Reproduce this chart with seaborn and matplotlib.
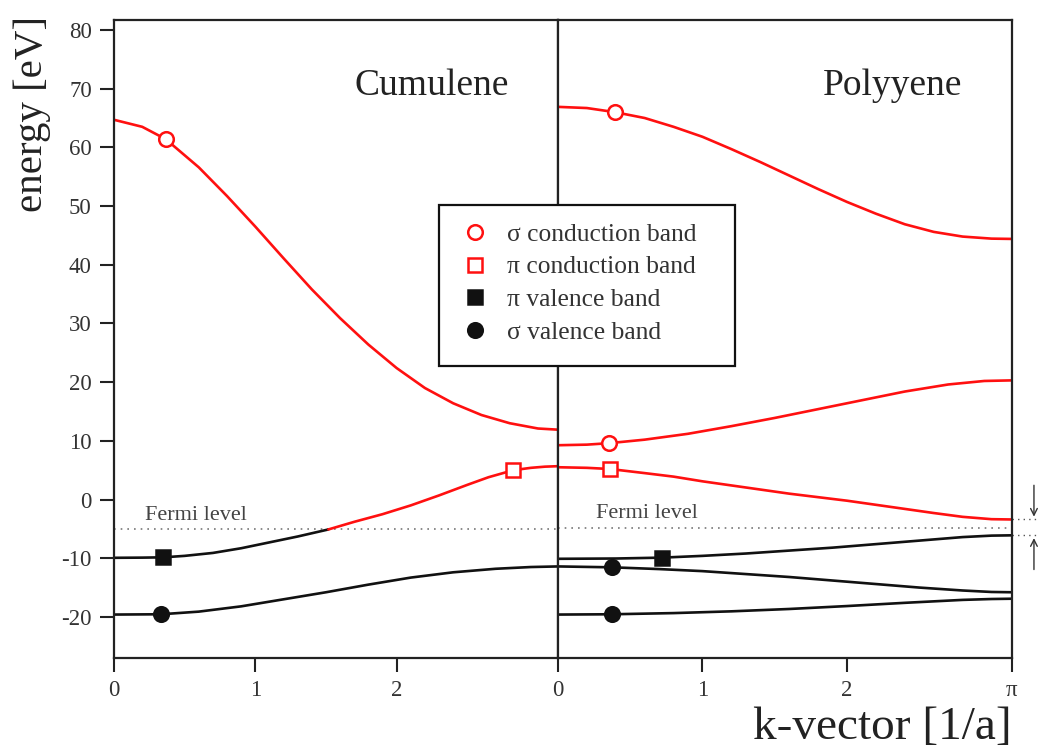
import numpy as np
import pandas as pd
import seaborn as sns
import matplotlib.pyplot as plt
from matplotlib.lines import Line2D
from matplotlib.patches import Rectangle

# ---- band data: k in units of 1/a, energy in eV ----
# Cumulene
cum_sig_c_k = [0.0, 0.2, 0.366, 0.6, 0.8, 1.0, 1.2, 1.4, 1.6, 1.8, 2.0, 2.2, 2.4, 2.6, 2.8, 3.0, np.pi]
cum_sig_c_E = [64.7, 63.5, 61.4, 56.6, 51.7, 46.5, 41.1, 35.8, 30.9, 26.4, 22.4, 19.0, 16.4, 14.4, 13.0, 12.1, 11.9]

# pi band below the Fermi level (valence part) and above it (conduction part)
cum_pi_v_k = [0.0, 0.2, 0.349, 0.5, 0.7, 0.9, 1.1, 1.3, 1.517]
cum_pi_v_E = [-9.93, -9.9, -9.85, -9.6, -9.1, -8.3, -7.3, -6.3, -5.1]
cum_pi_c_k = [1.517, 1.7, 1.9, 2.1, 2.3, 2.5, 2.65, 2.826, 2.95, 3.05, np.pi]
cum_pi_c_E = [-5.1, -3.8, -2.5, -1.0, 0.7, 2.5, 3.8, 5.0, 5.4, 5.6, 5.68]

cum_sig_v_k = [0.0, 0.333, 0.6, 0.9, 1.2, 1.5, 1.8, 2.1, 2.4, 2.7, 2.95, np.pi]
cum_sig_v_E = [-19.6, -19.55, -19.1, -18.2, -17.0, -15.8, -14.5, -13.3, -12.4, -11.8, -11.5, -11.4]

# Polyyene
pol_sig_c1_k = [0.0, 0.2, 0.394, 0.6, 0.8, 1.0, 1.2, 1.4, 1.6, 1.8, 2.0, 2.2, 2.4, 2.6, 2.8, 3.0, np.pi]
pol_sig_c1_E = [66.9, 66.7, 66.0, 65.0, 63.5, 61.8, 59.7, 57.5, 55.2, 52.9, 50.7, 48.7, 46.9, 45.6, 44.8, 44.45, 44.4]

pol_sig_c2_k = [0.0, 0.2, 0.353, 0.6, 0.9, 1.2, 1.5, 1.8, 2.1, 2.4, 2.7, 2.95, np.pi]
pol_sig_c2_E = [9.25, 9.35, 9.6, 10.2, 11.2, 12.5, 13.9, 15.4, 16.9, 18.4, 19.6, 20.2, 20.3]

pol_pi_c_k = [0.0, 0.2, 0.36, 0.6, 0.8, 1.0, 1.2, 1.4, 1.6, 1.8, 2.0, 2.2, 2.4, 2.6, 2.8, 3.0, np.pi]
pol_pi_c_E = [5.5, 5.4, 5.2, 4.5, 3.9, 3.1, 2.4, 1.7, 1.0, 0.4, -0.2, -0.9, -1.6, -2.3, -2.95, -3.35, -3.4]

pol_pi_v_k = [0.0, 0.4, 0.72, 1.0, 1.3, 1.6, 1.9, 2.2, 2.5, 2.8, 3.0, np.pi]
pol_pi_v_E = [-10.1, -10.05, -9.9, -9.6, -9.2, -8.7, -8.2, -7.6, -7.0, -6.4, -6.15, -6.1]

pol_sig_v1_k = [0.0, 0.374, 0.7, 1.0, 1.3, 1.6, 1.9, 2.2, 2.5, 2.8, 3.0, np.pi]
pol_sig_v1_E = [-11.4, -11.55, -11.85, -12.2, -12.7, -13.2, -13.8, -14.4, -15.0, -15.5, -15.75, -15.8]

pol_sig_v2_k = [0.0, 0.374, 0.8, 1.2, 1.6, 2.0, 2.4, 2.8, 3.0, np.pi]
pol_sig_v2_E = [-19.6, -19.55, -19.35, -19.05, -18.65, -18.15, -17.6, -17.1, -16.95, -16.9]

fermi_cum = -5.1
fermi_pol = -4.8
gap_top = -3.4
gap_bottom = -6.1

# marker positions (k, E)
cum_markers = {
    "sig_c": (0.366, 61.4),
    "pi_c": (2.826, 5.0),
    "pi_v": (0.349, -9.85),
    "sig_v": (0.333, -19.55),
}
pol_markers = {
    "sig_c1": (0.394, 66.0),
    "sig_c2": (0.353, 9.6),
    "pi_c": (0.36, 5.2),
    "pi_v": (0.72, -9.9),
    "sig_v1": (0.374, -11.55),
    "sig_v2": (0.374, -19.55),
}

legend_labels = ["\u03c3 conduction band", "\u03c0 conduction band",
                 "\u03c0 valence band", "\u03c3 valence band"]

sns.set_theme(style="ticks")
plt.rcParams["font.family"] = ["Liberation Serif", "DejaVu Serif"]
plt.rcParams["axes.unicode_minus"] = False
plt.rcParams["lines.solid_joinstyle"] = "round"

RED = "#ff1010"
BLK = "#111111"
TXT = "#333333"

W, H = 1039, 749
fig = plt.figure(figsize=(W / 100, H / 100), dpi=100)
gs = fig.add_gridspec(1, 2, width_ratios=[444, 454], wspace=0,
                      left=0.1097, right=0.974, top=0.9733, bottom=0.1215)
ax1 = fig.add_subplot(gs[0])
ax2 = fig.add_subplot(gs[1], sharey=ax1)


def band(ax, k, E, color):
    df = pd.DataFrame({"k": k, "E": E})
    sns.lineplot(data=df, x="k", y="E", ax=ax, color=color, lw=1.9,
                 sort=False, estimator=None)


def mark(ax, k, E, kind, color, filled):
    m = "o" if kind == "sig" else "s"
    ms = 10.5 if m == "o" else 10
    ax.plot([k], [E], marker=m, ms=ms, ls="none",
            mfc=color if filled else "white", mec=color, mew=1.8, zorder=5)


# cumulene panel
band(ax1, cum_sig_c_k, cum_sig_c_E, RED)
band(ax1, cum_pi_v_k, cum_pi_v_E, BLK)
band(ax1, cum_pi_c_k, cum_pi_c_E, RED)
band(ax1, cum_sig_v_k, cum_sig_v_E, BLK)
mark(ax1, *cum_markers["sig_c"], "sig", RED, False)
mark(ax1, *cum_markers["pi_c"], "pi", RED, False)
mark(ax1, *cum_markers["pi_v"], "pi", BLK, True)
mark(ax1, *cum_markers["sig_v"], "sig", BLK, True)
ax1.axhline(fermi_cum, color="#777777", ls=(0, (1, 3)), lw=1.2, zorder=1)

# polyyene panel
band(ax2, pol_sig_c1_k, pol_sig_c1_E, RED)
band(ax2, pol_sig_c2_k, pol_sig_c2_E, RED)
band(ax2, pol_pi_c_k, pol_pi_c_E, RED)
band(ax2, pol_pi_v_k, pol_pi_v_E, BLK)
band(ax2, pol_sig_v1_k, pol_sig_v1_E, BLK)
band(ax2, pol_sig_v2_k, pol_sig_v2_E, BLK)
mark(ax2, *pol_markers["sig_c1"], "sig", RED, False)
mark(ax2, *pol_markers["sig_c2"], "sig", RED, False)
mark(ax2, *pol_markers["pi_c"], "pi", RED, False)
mark(ax2, *pol_markers["pi_v"], "pi", BLK, True)
mark(ax2, *pol_markers["sig_v1"], "sig", BLK, True)
mark(ax2, *pol_markers["sig_v2"], "sig", BLK, True)
ax2.axhline(fermi_pol, color="#777777", ls=(0, (1, 3)), lw=1.2, zorder=1)

# band-gap marker to the right of the polyyene panel
xr = [np.pi, np.pi + 0.19]
for e in (gap_top, gap_bottom):
    ax2.plot(xr, [e, e], color="#555555", ls=(0, (1, 3)), lw=1.0, clip_on=False)
xa = np.pi + 0.152
ax2.annotate("", xy=(xa, gap_top), xytext=(xa, 2.9), annotation_clip=False,
             arrowprops=dict(arrowstyle="->", color="#333333", lw=1.0))
ax2.annotate("", xy=(xa, gap_bottom), xytext=(xa, -12.4), annotation_clip=False,
             arrowprops=dict(arrowstyle="->", color="#333333", lw=1.0))

# axes limits, ticks, frame
for ax in (ax1, ax2):
    ax.set_xlim(0, np.pi)
    ax.set_ylim(-27.0, 81.7)
    ax.set_xlabel("")
    ax.set_ylabel("")
    for s in ax.spines.values():
        s.set_visible(True)
        s.set_color("#222222")
        s.set_linewidth(1.6)
    ax.tick_params(direction="out", length=10, width=1.5, color="#222222",
                   labelsize=16.5, labelcolor=TXT, pad=6)
    ax.grid(False)

ax1.set_xticks([0, 1, 2])
ax1.set_xticklabels(["0", "1", "2"])
ax2.set_xticks([0, 1, 2, np.pi])
ax2.set_xticklabels(["0", "1", "2", "\u03c0"])
ax1.set_yticks([-20, -10, 0, 10, 20, 30, 40, 50, 60, 70, 80])
ax2.tick_params(axis="y", left=False, labelleft=False)

ax1.text(0.716, 0.897, "Cumulene", transform=ax1.transAxes, ha="center",
         va="center", fontsize=27, color="#222222")
ax2.text(0.738, 0.897, "Polyyene", transform=ax2.transAxes, ha="center",
         va="center", fontsize=27, color="#222222")
ax1.text(0.22, fermi_cum + 2.3, "Fermi level", ha="left", va="center",
         fontsize=16, color="#444444")
ax2.text(0.263, fermi_pol + 2.5, "Fermi level", ha="left", va="center",
         fontsize=16, color="#444444")

fig.text(0.0308, 0.848, "energy [eV]", rotation=90, ha="center", va="center",
         fontsize=29.5, color="#222222")
fig.text(0.974, 0.029, "k-vector [1/a]", ha="right", va="center",
         fontsize=34, color="#222222")

# legend: square white box over the panel divider, entries inside it
box = Rectangle((439 / W, 1 - 366 / H), 296 / W, 161 / H,
                transform=fig.transFigure, facecolor="white",
                edgecolor="#111111", lw=1.6, zorder=4)
fig.add_artist(box)

handles = [
    Line2D([], [], ls="none", marker="o", ms=10.5, mfc="white", mec=RED, mew=1.8),
    Line2D([], [], ls="none", marker="s", ms=10, mfc="white", mec=RED, mew=1.8),
    Line2D([], [], ls="none", marker="s", ms=10, mfc=BLK, mec=BLK, mew=1.8),
    Line2D([], [], ls="none", marker="o", ms=10.5, mfc=BLK, mec=BLK, mew=1.8),
]
leg = fig.legend(handles, legend_labels, loc="upper left",
                 bbox_to_anchor=(459.5 / W, 1 - 223 / H), fontsize=18.4,
                 frameon=False, handlelength=1.2, handletextpad=0.67,
                 borderpad=0, labelspacing=0.38, borderaxespad=0)
leg.set_zorder(6)
for t in leg.get_texts():
    t.set_color(TXT)

fig.savefig("out.png", dpi=100)
